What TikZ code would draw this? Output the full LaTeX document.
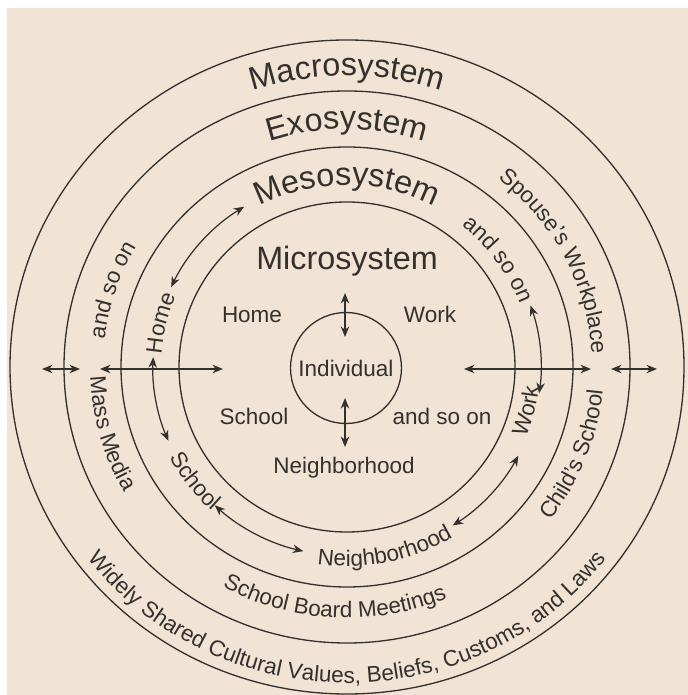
\documentclass[tikz,border=0pt]{standalone}
\usepackage{fontspec}
\setmainfont{Liberation Sans}
\usepackage{tikz}
\usetikzlibrary{arrows.meta,decorations.text}

\definecolor{paper}{RGB}{241,228,212}
\definecolor{ink}{RGB}{52,48,46}
\newcommand\sysfont{\fontsize{18.4}{20}\selectfont}
\newcommand\ringfont{\fontsize{12.8}{14}\selectfont}

\tikzset{
  ring/.style={draw=ink, line width=0.75pt},
  both/.style={line width=0.7pt, {Stealth[length=6pt,width=4.8pt]}-{Stealth[length=6pt,width=4.8pt]}},
  lbl/.style={font=\ringfont, anchor=base, inner sep=0pt},
  systext/.style={decorate, decoration={text along path, text align=center, text color=ink, text={|\sysfont|#1}}},
  ringtext/.style={decorate, decoration={text along path, text align=center, text color=ink, text={|\ringfont|#1}}},
}

\begin{document}
\begin{tikzpicture}[x=0.02cm, y=0.02cm, color=ink]
\useasboundingbox (-347,367) rectangle (341,-328);
\fill[white] (-347,367) rectangle (341,-328);
\fill[paper] (-340,359) rectangle (341,-328);

% systems, from the individual outwards
\node[draw, line width=0.75pt, circle, minimum size=2.22cm, inner sep=0pt, font=\ringfont] (indiv) at (-1,-1) {Individual};
\draw[ring] (0,0) ellipse[x radius=168, y radius=165];
\draw[ring] (0,0) ellipse[x radius=226, y radius=220];
\draw[ring] (0,0) ellipse[x radius=283, y radius=276];
\draw[ring] (0,0) ellipse[x radius=337, y radius=327];

% microsystem
\node[lbl, font=\sysfont] (micro) at (0,97) {Microsystem};
\node[lbl] (home) at (-95,44) {Home};
\node[lbl] (work) at (83,44) {Work};
\node[lbl] (school) at (-93,-58) {School};
\node[lbl] (etc) at (95,-58) {and so on};
\node[lbl] (nbhd) at (-3,-107) {Neighborhood};

\coordinate (up1) at (-2,74); \coordinate (up2) at (-2,30);
\coordinate (dn1) at (-2,-31); \coordinate (dn2) at (-2,-80);
\draw[both] (up1) -- (up2);
\draw[both] (dn1) -- (dn2);

% links across the rings
\coordinate (wl1) at (-305,-2); \coordinate (wl2) at (-267,-2);
\coordinate (hl1) at (-247,-2); \coordinate (hl2) at (-124,-2);
\coordinate (hr1) at (117,-2);  \coordinate (hr2) at (244,-2);
\coordinate (wr1) at (264,-2);  \coordinate (wr2) at (310,-2);
\draw[both] (wl1) -- (wl2);
\draw[both] (hl1) -- (hl2);
\draw[both] (hr1) -- (hr2);
\draw[both] (wr1) -- (wr2);

% mesosystem
\path[systext={Mesosystem}] (150:187 and 182) arc[start angle=150, end angle=30, x radius=187, y radius=182];
\path[ringtext={Home}] (196.5:186 and 181) arc[start angle=196.5, end angle=136.5, x radius=186, y radius=181];
\path[ringtext={and so on}] (66:185 and 180) arc[start angle=66, end angle=6, x radius=185, y radius=180];
\path[ringtext={School}] (187.5:200 and 195) arc[start angle=187.5, end angle=247.5, x radius=200, y radius=195];
\path[ringtext={Neighborhood}] (251.5:204 and 199) arc[start angle=251.5, end angle=311.5, x radius=204, y radius=199];
\path[ringtext={Work}] (316:193 and 188) arc[start angle=316, end angle=376, x radius=193, y radius=188];

\coordinate (m1) at (155:194 and 189);
\coordinate (m2) at (177:194 and 189);
\coordinate (m3) at (227:194 and 189);
\coordinate (m4) at (303:194 and 189);
\coordinate (m5) at (19:194 and 189);
\draw[both] (m1) arc[start angle=155, end angle=122, x radius=194, y radius=189];
\draw[both] (m2) arc[start angle=177, end angle=203, x radius=194, y radius=189];
\draw[both] (m3) arc[start angle=227, end angle=257, x radius=194, y radius=189];
\draw[both] (m4) arc[start angle=303, end angle=332, x radius=194, y radius=189];
\draw[both] (m5) arc[start angle=19, end angle=-8, x radius=194, y radius=189];

% exosystem
\path[systext={Exosystem}] (140:245 and 238) arc[start angle=140, end angle=40, x radius=245, y radius=238];
\path[ringtext={and so on}] (191.5:244 and 238) arc[start angle=191.5, end angle=131.5, x radius=244, y radius=238];
\path[ringtext={Spouse's Workplace}] (62.5:245 and 239) arc[start angle=62.5, end angle=-7.5, x radius=245, y radius=239];
\path[ringtext={Mass Media}] (166:257 and 251) arc[start angle=166, end angle=226, x radius=257, y radius=251];
\path[ringtext={School Board Meetings}] (227:258 and 251) arc[start angle=227, end angle=307, x radius=258, y radius=251];
\path[ringtext={Child's School}] (303.5:257 and 251) arc[start angle=303.5, end angle=373.5, x radius=257, y radius=251];

% macrosystem
\path[systext={Macrosystem}] (135:301 and 291) arc[start angle=135, end angle=45, x radius=301, y radius=291];
\path[ringtext={Widely Shared Cultural Values, Beliefs, Customs, and Laws}] (205:326 and 316) arc[start angle=205, end angle=335, x radius=326, y radius=316];
\end{tikzpicture}
\end{document}
